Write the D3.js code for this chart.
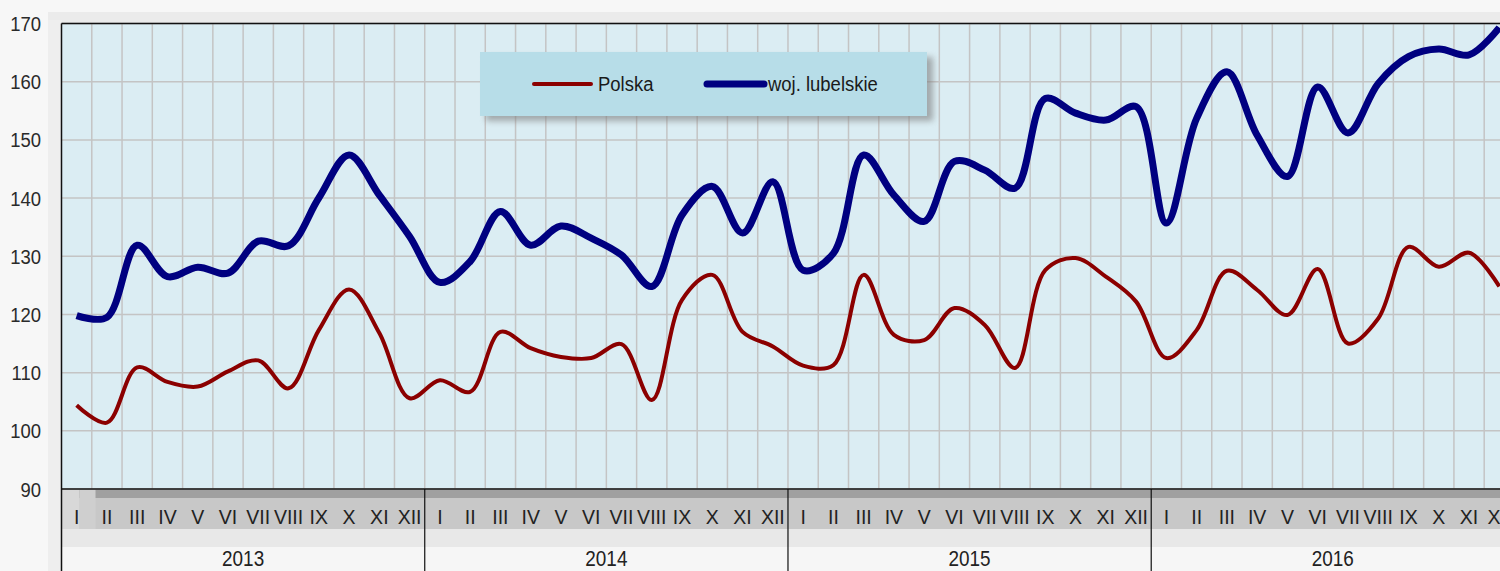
<!DOCTYPE html>
<html>
<head>
<meta charset="utf-8">
<script src="https://cdn.jsdelivr.net/npm/d3@7"></script>
<style>
html,body{margin:0;padding:0;background:#f7f7f7;overflow:hidden;}
svg{display:block;font-family:"Liberation Sans",Arial,sans-serif;}
</style>
</head>
<body>
<svg id="chart" width="1500" height="571"></svg>
<script>
const years = ["2013","2014","2015","2016"];
const months = ["I","II","III","IV","V","VI","VII","VIII","IX","X","XI","XII"];
const yTicks = [90,100,110,120,130,140,150,160,170];
const seriesNames = ["Polska","woj. lubelskie"];

const polska = [
  104.4,101.4,110.9,108.4,107.6,110.2,112.1,107.3,117.3,124.3,116.8,105.6,
  108.7,106.7,117.0,114.2,112.7,112.5,114.9,105.3,122.5,126.8,117.0,114.5,
  111.2,111.3,126.8,116.5,115.6,121.1,118.2,110.8,127.6,129.7,126.5,122.2,
  112.5,117.3,127.5,124.2,119.9,127.8,115.0,119.3,131.6,128.2,130.6,124.8
];
const lubelskie = [
  119.8,119.5,131.9,126.5,128.1,127.1,132.6,131.8,140.0,147.4,140.5,133.4,
  125.5,129.1,137.7,131.9,135.2,133.1,130.2,124.8,137.1,142.0,134.0,142.8,
  127.6,130.5,147.4,140.5,136.0,146.3,144.8,141.7,157.1,154.6,153.4,155.7,
  135.7,153.7,161.7,150.8,143.7,159.1,151.2,159.7,164.3,165.6,164.6,169.3
];

(function(){
const svg = d3.select("#chart");
const pLeft = 61.5, pTop = 23.5, pBottom = 489;
const monthW = 30.27;
const nM = years.length * months.length;
const pRight = pLeft + nM * monthW;

const x = d3.scaleLinear().domain([0, nM]).range([pLeft, pRight]);
const y = d3.scaleLinear().domain([90, 170]).range([pBottom, pTop]);

const defs = svg.append("defs");
defs.append("filter").attr("id","blur").attr("x","-10%").attr("y","-30%").attr("width","130%").attr("height","170%")
  .append("feGaussianBlur").attr("stdDeviation",3);

// background shading
svg.append("rect").attr("x",0).attr("y",0).attr("width",1500).attr("height",571).attr("fill","#f7f7f7");
svg.append("rect").attr("x",48).attr("y",12).attr("width",1460).attr("height",14).attr("fill","#ebebeb");
svg.append("rect").attr("x",48).attr("y",20).attr("width",14).attr("height",551).attr("fill","#eeeeee");
// axis band shading
svg.append("rect").attr("x",pLeft).attr("y",pBottom).attr("width",1500).attr("height",58).attr("fill","#e8e8e8");
svg.append("rect").attr("x",pLeft).attr("y",pBottom).attr("width",1500).attr("height",40).attr("fill","#c8c8c8");
svg.append("rect").attr("x",pLeft).attr("y",pBottom).attr("width",1500).attr("height",9).attr("fill","#a0a0a0");
svg.append("rect").attr("x",pLeft).attr("y",pBottom).attr("width",18).attr("height",40).attr("fill","#d8d8d8");
svg.append("rect").attr("x",pLeft+18).attr("y",pBottom).attr("width",16).attr("height",40).attr("fill","#cfcfcf");
svg.append("rect").attr("x",pLeft).attr("y",pBottom+58).attr("width",1500).attr("height",30).attr("fill","#f6f6f6");

// plot area
svg.append("rect").attr("x",pLeft).attr("y",pTop).attr("width",pRight-pLeft).attr("height",pBottom-pTop).attr("fill","#dbedf3");

// grid
const g = svg.append("g");
g.selectAll("line.h").data(yTicks).join("line")
  .attr("x1",pLeft).attr("x2",pRight).attr("y1",d=>y(d)).attr("y2",d=>y(d))
  .attr("stroke","#c4c4c4").attr("stroke-width",1.5);
g.selectAll("line.v").data(d3.range(1,nM)).join("line")
  .attr("y1",pTop).attr("y2",pBottom).attr("x1",d=>x(d)).attr("x2",d=>x(d))
  .attr("stroke","#c4c4c4").attr("stroke-width",1.5);

// text helper: horizontally condensed text
function put(sel, px, py, sx){
  return sel.attr("transform", `translate(${px},${py}) scale(${sx},1)`);
}

// legend
const lg = svg.append("g");
lg.append("rect").attr("x",486).attr("y",57).attr("width",447).attr("height",64).attr("fill","#7a7a7a").attr("opacity",0.6).attr("filter","url(#blur)");
lg.append("rect").attr("x",480).attr("y",52).attr("width",447).attr("height",64).attr("fill","#b7dde8");
lg.append("line").attr("x1",534).attr("x2",591).attr("y1",84).attr("y2",84).attr("stroke","#8b0000").attr("stroke-width",4).attr("stroke-linecap","round");
put(lg.append("text").text(seriesNames[0]).attr("font-size",21).attr("fill","#1a1a1a"), 598, 91, 0.88);
lg.append("line").attr("x1",707).attr("x2",764).attr("y1",84).attr("y2",84).attr("stroke","#000080").attr("stroke-width",7).attr("stroke-linecap","round");
put(lg.append("text").text(seriesNames[1]).attr("font-size",21).attr("fill","#1a1a1a"), 768, 91, 0.88);

// lines
const line = d3.line().x((d,i)=>x(i+0.5)).y(d=>y(d)).curve(d3.curveCatmullRom.alpha(0.5));
svg.append("path").datum(polska).attr("d",line).attr("fill","none").attr("stroke","#8b0000").attr("stroke-width",4).attr("stroke-linejoin","round");
svg.append("path").datum(lubelskie).attr("d",line).attr("fill","none").attr("stroke","#000080").attr("stroke-width",7).attr("stroke-linejoin","round");

// borders
svg.append("line").attr("x1",pLeft).attr("x2",pRight).attr("y1",pTop).attr("y2",pTop).attr("stroke","#111").attr("stroke-width",1.5);
svg.append("line").attr("x1",pLeft).attr("x2",pRight).attr("y1",pBottom).attr("y2",pBottom).attr("stroke","#111").attr("stroke-width",1.5);
svg.append("line").attr("x1",pLeft).attr("x2",pLeft).attr("y1",pTop).attr("y2",571).attr("stroke","#111").attr("stroke-width",1.5);
svg.selectAll("line.ysep").data(d3.range(1,years.length)).join("line")
  .attr("x1",d=>x(d*12)).attr("x2",d=>x(d*12)).attr("y1",pBottom).attr("y2",571)
  .attr("stroke","#111").attr("stroke-width",1.2);

// y labels
svg.selectAll("text.yl").data(yTicks).join("text")
  .attr("text-anchor","end").attr("font-size",21).attr("fill","#2a2a2a").text(d=>d)
  .attr("transform", d=>`translate(41,${y(d)+7.5}) scale(0.88,1)`);

// month labels
const mData = d3.range(nM).map(i=>({i, label: months[i%12]}));
svg.selectAll("text.ml").data(mData).join("text")
  .attr("text-anchor","middle").attr("font-size",21).attr("fill","#222").text(d=>d.label)
  .attr("transform", d=>`translate(${x(d.i+0.5)},524) scale(0.93,1)`);

// year labels
svg.selectAll("text.yr").data(years).join("text")
  .attr("text-anchor","middle").attr("font-size",22).attr("fill","#222").text(d=>d)
  .attr("transform", (d,i)=>`translate(${x(i*12+6)},566) scale(0.86,1)`);
})();
</script>
</body>
</html>
